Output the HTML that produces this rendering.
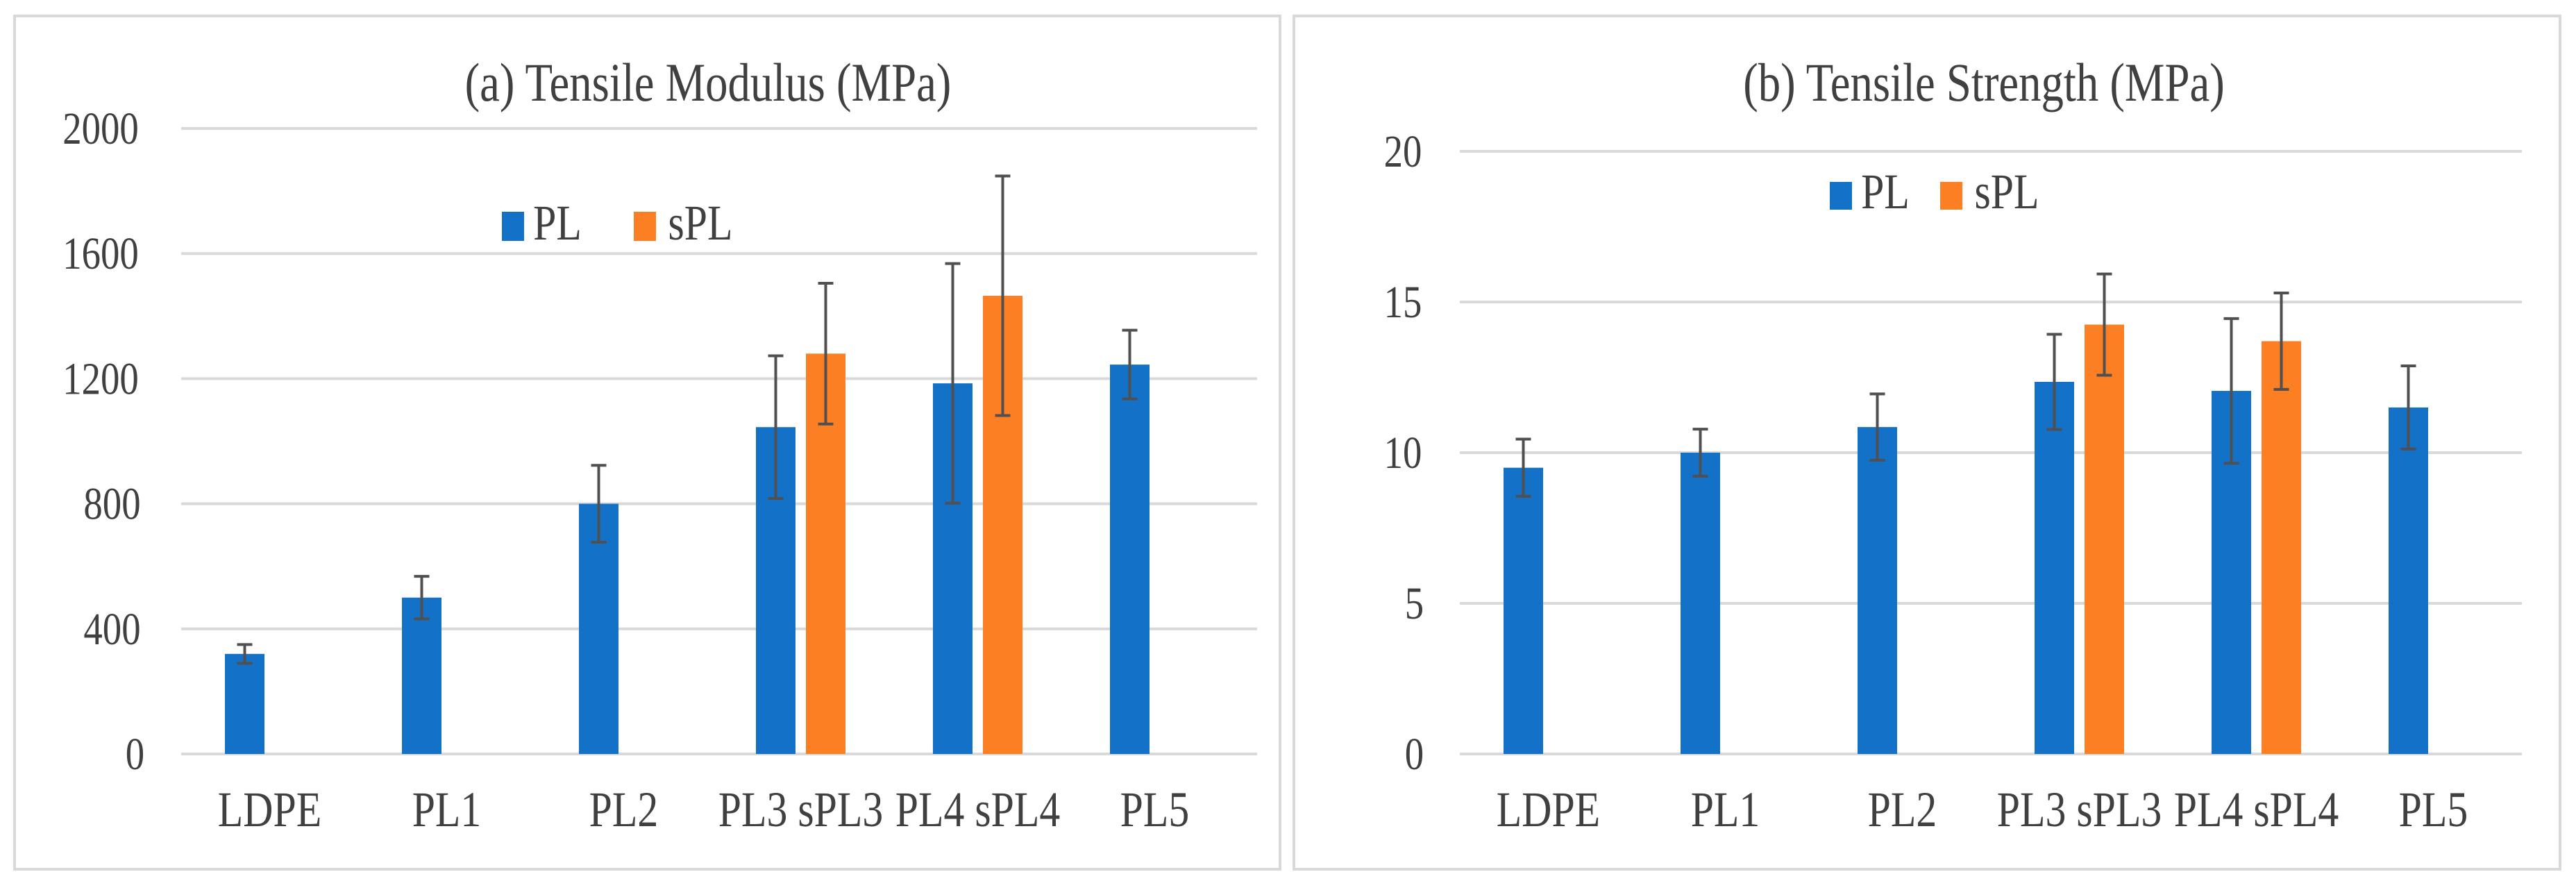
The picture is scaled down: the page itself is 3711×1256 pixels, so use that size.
<!DOCTYPE html>
<html><head><meta charset="utf-8"><style>
html,body{margin:0;padding:0;background:#fff;}
svg{display:block;}
text{font-family:"Liberation Serif",serif;fill:#404040;}
.sq{transform-box:fill-box;transform-origin:center;transform:scaleX(0.83);}
</style></head><body>
<svg id="fig" width="3711" height="1256" viewBox="0 0 3711 1256">
<rect x="21" y="23" width="1823" height="1229" fill="#fff" stroke="#d9d9d9" stroke-width="4"/>
<rect x="1864" y="23" width="1824" height="1229" fill="#fff" stroke="#d9d9d9" stroke-width="4"/>
</svg>
<script>
const categories=["LDPE","PL1","PL2","PL3 sPL3","PL4 sPL4","PL5"];
const modulusPL=[320,500,800,1045,1185,1245];
const modulusPLerr=[30,68,123,228,383,110];
const modulusSPL=[null,null,null,1280,1465,null];
const modulusSPLerr=[null,null,null,225,383,null];
const modulusTicks=[0,400,800,1200,1600,2000];
const strengthPL=[9.5,10,10.85,12.35,12.05,11.5];
const strengthPLerr=[0.95,0.78,1.1,1.58,2.4,1.38];
const strengthSPL=[null,null,null,14.25,13.7,null];
const strengthSPLerr=[null,null,null,1.68,1.6,null];
const strengthTicks=[0,5,10,15,20];

const NS="http://www.w3.org/2000/svg";
const svg=document.getElementById('fig');
function mk(tag,attrs,parent){const e=document.createElementNS(NS,tag);for(const k in attrs)e.setAttribute(k,attrs[k]);(parent||svg).appendChild(e);return e;}

function drawChart(o){
  const g=mk('g',{});
  
  
  const x0=o.x0,x1=o.x0+1530,yTop=o.yTop,yBot=1086;
  const maxV=o.ticks[o.ticks.length-1];
  const y=v=>yBot-(v/maxV)*(yBot-yTop);
  const band=(x1-x0)/categories.length;
  const cx=i=>x0+band*(i+0.5);
  o.ticks.forEach(t=>{
    const l=mk('line',{x1:x0,x2:o.gridEnd,y1:y(t),y2:y(t),stroke:'#d9d9d9','stroke-width':4},g);
    
    
    const tx=mk('text',{x:o.tickX,y:y(t)+22,'text-anchor':'end','font-size':66,class:'sq'},g);
    tx.textContent=t;
    
    
  });
  const bw=57;
  function bar(v,e,i,off,color,ser){
    if(v==null)return;
    const bx=cx(i)+off-bw/2;
    const r=mk('rect',{x:bx,y:y(v),width:bw,height:yBot-y(v),fill:color},g);
    
    
    const ex=cx(i)+off;
    const eb=mk('path',{d:`M${ex},${y(v+e)}V${y(v-e)}M${ex-11},${y(v+e)}H${ex+11}M${ex-11},${y(v-e)}H${ex+11}`,stroke:'#505050','stroke-width':4,fill:'none'},g);
    
    
  }
  categories.forEach((c,i)=>{
    bar(o.pl[i],o.plErr[i],i,-36,'#1471c8','pl');
    bar(o.spl[i],o.splErr[i],i,36,'#fd7f23','spl');
    const t=mk('text',{x:cx(i),y:1190,'text-anchor':'middle','font-size':72,class:'sq'},g);
    t.textContent=c;
    
    
  });
  const ti=mk('text',{x:o.titleX,y:145,'text-anchor':'middle','font-size':78,class:'sq'},g);
  ti.textContent=o.title;
  
  
  const L=o.legend;
  const s1=mk('rect',{x:L.x1,y:L.y,width:32,height:L.h,fill:'#1471c8'},g);
  
  
  const t1=mk('text',{x:L.x1+38,y:L.y+L.h-2,'font-size':72,class:'sq'},g);
  t1.textContent='PL';
  
  
  const s2=mk('rect',{x:L.x2,y:L.y,width:32,height:L.h,fill:'#fd7f23'},g);
  
  
  const t2=mk('text',{x:L.x2+40,y:L.y+L.h-2,'font-size':72,class:'sq'},g);
  t2.textContent='sPL';
  
  
}
drawChart({key:'modulus',x0:261,yTop:185,gridEnd:1811,ticks:modulusTicks,pl:modulusPL,plErr:modulusPLerr,spl:modulusSPL,splErr:modulusSPLerr,tickX:211,title:'(a) Tensile Modulus (MPa)',titleX:1020,legend:{x1:723,x2:913,y:305,h:42}});
drawChart({key:'strength',x0:2103,yTop:218,gridEnd:3633,ticks:strengthTicks,pl:strengthPL,plErr:strengthPLerr,spl:strengthSPL,splErr:strengthSPLerr,tickX:2054,title:'(b) Tensile Strength (MPa)',titleX:2858,legend:{x1:2636,x2:2795,y:262,h:40}});
</script>
</body></html>
